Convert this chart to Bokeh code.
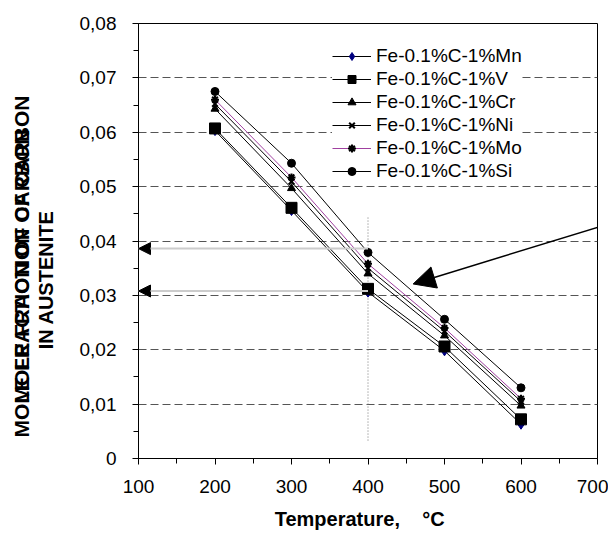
from bokeh.plotting import figure
from bokeh.models import (Range1d, FixedTicker, Arrow, NormalHead, Legend, LegendItem, Title)
from bokeh.embed import file_html
from bokeh.resources import INLINE

# ---- data ----
temperature = [200, 300, 400, 500, 600]
mn = [0.0603, 0.0456, 0.0306, 0.0198, 0.0063]
v = [0.0607, 0.0461, 0.0312, 0.0206, 0.0072]
cr = [0.0643, 0.0497, 0.0340, 0.0226, 0.0097]
ni = [0.0652, 0.0509, 0.0350, 0.0234, 0.0105]
mo = [0.0660, 0.0517, 0.0358, 0.0240, 0.0110]
si = [0.0675, 0.0543, 0.0379, 0.0256, 0.0130]
series_names = ["Fe-0.1%C-1%Mn", "Fe-0.1%C-1%V", "Fe-0.1%C-1%Cr",
                "Fe-0.1%C-1%Ni", "Fe-0.1%C-1%Mo", "Fe-0.1%C-1%Si"]

x_ticks = [100, 200, 300, 400, 500, 600, 700]
y_ticks = [0, 0.01, 0.02, 0.03, 0.04, 0.05, 0.06, 0.07, 0.08]
y_tick_labels = ["0", "0,01", "0,02", "0,03", "0,04", "0,05", "0,06", "0,07", "0,08"]

x_title = "Temperature,\u00a0\u00a0\u00a0\u00a0°C"
y_title_1 = "MOLE FRACTION OF CARBON"
y_title_2 = "IN AUSTENITE"

# annotation values
marker_temp = 400
marker_fracs = [0.0386, 0.0308]
vline_range = [0.0033, 0.0444]
big_arrow_start = [702, 0.0426]
big_arrow_end = [459, 0.0321]

FONT = "Liberation Sans"
NB = "\u00a0"

p = figure(frame_width=459, frame_height=435,
           min_border_left=138, min_border_right=11,
           min_border_top=23, min_border_bottom=76,
           x_range=Range1d(100, 700), y_range=Range1d(0, 0.08),
           output_backend="svg", toolbar_location=None)

p.background_fill_color = "white"
p.border_fill_color = "white"
p.outline_line_color = "black"
p.outline_line_width = 1

# axes
x_minor = [(a + b) / 2 for a, b in zip(x_ticks[:-1], x_ticks[1:])]
y_minor = [(a + b) / 2 for a, b in zip(y_ticks[:-1], y_ticks[1:])]
p.xaxis.ticker = FixedTicker(ticks=x_ticks, minor_ticks=x_minor)
p.yaxis.ticker = FixedTicker(ticks=y_ticks, minor_ticks=y_minor)
p.yaxis.major_label_overrides = {t: l for t, l in zip(y_ticks, y_tick_labels)}
for ax in (p.xaxis, p.yaxis):
    ax.axis_line_color = "black"
    ax.axis_line_width = 1
    ax.major_tick_line_color = "black"
    ax.minor_tick_line_color = "black"
    ax.major_tick_out = 6
    ax.major_tick_in = 0
    ax.minor_tick_out = 5
    ax.minor_tick_in = 0
    ax.major_label_text_font = FONT
    ax.major_label_text_font_size = "19px"
    ax.major_label_text_color = "black"
    ax.axis_label_text_font = FONT
    ax.axis_label_text_font_style = "bold"
    ax.axis_label_text_font_size = "20px"
    ax.axis_label_text_color = "black"
p.xaxis.major_label_standoff = 15
p.yaxis.major_label_standoff = 16

p.xaxis.axis_label = x_title + NB * 3
p.xaxis.axis_label_standoff = 12
p.yaxis.axis_label = y_title_2 + NB * 14
p.yaxis.axis_label_standoff = 20

# first line of the y title: two overlapping copies, as in the original
title_kw = dict(align="left", text_font=FONT, text_font_style="bold",
                text_font_size="21px", text_color="black")
p.add_layout(Title(text=y_title_1, offset=21, standoff=-4, vertical_align="middle",
                   **title_kw), "left")
p.add_layout(Title(text=y_title_1, offset=55, standoff=-44, vertical_align="bottom",
                   **title_kw), "left")

p.xgrid.visible = False
p.ygrid.ticker = FixedTicker(ticks=y_ticks[1:-1])
p.ygrid.grid_line_color = "#555555"
p.ygrid.grid_line_dash = "8 4"
p.ygrid.grid_line_width = 1

# annotation lines (drawn under the data)
p.segment(x0=[marker_temp], y0=[vline_range[0]], x1=[marker_temp], y1=[vline_range[1]],
          line_color="#777777", line_dash="1 2", line_width=1)
for f in marker_fracs:
    p.add_layout(Arrow(x_start=marker_temp, y_start=f, x_end=100, y_end=f,
                       line_color="#cccccc", line_width=2,
                       end=NormalHead(size=12, fill_color="black", line_color="black")))

# series
styles = [
    (mn, "black", "diamond", 10, "#000080", 1),
    (v, "black", "square", 11, "black", 1),
    (cr, "black", "triangle", 8, "black", 1),
    (ni, "black", "x", 8, "black", 2),
    (mo, "#a040a0", "asterisk", 8, "black", 2),
    (si, "black", "circle", 8, "black", 1),
]
items = []
for name, (ys, lc, mk, sz, mc, mlw) in zip(series_names, styles):
    r1 = p.line(temperature, ys, line_color=lc, line_width=1)
    r2 = p.scatter(temperature, ys, marker=mk, size=sz, fill_color=mc,
                   line_color=mc, line_width=mlw)
    items.append(LegendItem(label=name, renderers=[r1, r2]))

legend = Legend(items=items, location=(194, 276))
legend.background_fill_color = "white"
legend.background_fill_alpha = 1
legend.border_line_color = None
legend.padding = 4
legend.margin = 0
legend.spacing = 1
legend.glyph_width = 39
legend.glyph_height = 20
legend.label_height = 20
legend.label_standoff = 5
legend.label_text_font = FONT
legend.label_text_font_size = "19px"
legend.label_text_color = "black"
p.add_layout(legend, "center")

# big arrow
p.add_layout(Arrow(x_start=big_arrow_start[0], y_start=big_arrow_start[1],
                   x_end=big_arrow_end[0], y_end=big_arrow_end[1],
                   line_color="black", line_width=1.5,
                   end=NormalHead(size=22, fill_color="black", line_color="black")))

open("out.html", "w").write(file_html(p, INLINE))
